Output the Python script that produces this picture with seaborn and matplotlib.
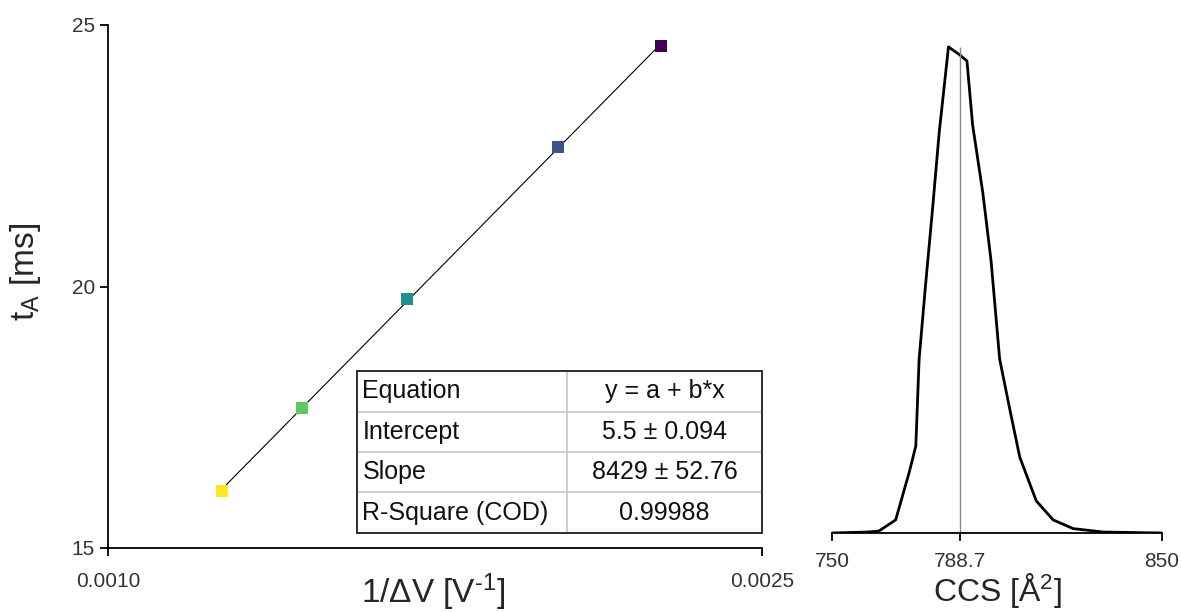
import numpy as np
import pandas as pd
import matplotlib
matplotlib.use("Agg")
import matplotlib.pyplot as plt
import seaborn as sns
from matplotlib.patches import Rectangle

# ---- data ----
inv_dv = [0.001261, 0.001445, 0.001686, 0.002032, 0.002268]
t_a = [16.09, 17.68, 19.76, 22.67, 24.60]
point_colors = ["#fde725", "#5ec962", "#21918c", "#3b528b", "#440154"]

table_rows = ["Equation", "Intercept", "Slope", "R-Square (COD)"]
table_vals = ["y = a + b*x", "5.5 \u00b1 0.094", "8429 \u00b1 52.76", "0.99988"]

ccs = [750.0, 760.7, 764.2, 769.3, 773.4, 775.4, 776.4, 778.4, 780.5, 782.5,
       785.3, 788.6, 790.9, 792.6, 795.7, 798.2, 800.8, 803.8, 806.9, 811.9,
       817.0, 823.1, 832.2, 850.0]
intensity = [0.0, 0.002, 0.004, 0.027, 0.125, 0.179, 0.358, 0.514, 0.669, 0.825,
             1.0, 0.984, 0.971, 0.84, 0.70, 0.56, 0.358, 0.257, 0.156, 0.066,
             0.027, 0.009, 0.002, 0.0]
ccs_center = 788.7
ccs_ticks = [750, 788.7, 850]
ccs_ticklabels = ["750", "788.7", "850"]

sns.set_theme(style="ticks")
plt.rcParams["font.family"] = ["Liberation Sans", "DejaVu Sans"]
plt.rcParams["mathtext.fontset"] = "custom"
plt.rcParams["mathtext.rm"] = "Liberation Sans"
plt.rcParams["mathtext.it"] = "Liberation Sans"

fig = plt.figure(figsize=(11.81, 6.12), dpi=100)
ax1 = fig.add_axes([108/1181, 1-548/612, 654/1181, 523/612])
ax2 = fig.add_axes([832/1181, 1-533/612, 330/1181, 508/612])

df = pd.DataFrame({"x": inv_dv, "y": t_a, "c": range(len(inv_dv))})
sns.regplot(data=df, x="x", y="y", ax=ax1, scatter=False, ci=None, truncate=True,
            line_kws=dict(color="black", lw=0.8))
sns.scatterplot(data=df, x="x", y="y", hue="c", palette=point_colors, marker="s",
                s=75, edgecolor="none", legend=False, ax=ax1, zorder=3)

ax1.set_xlim(0.0010, 0.0025)
ax1.set_ylim(15, 25)
ax1.set_xticks([0.0010, 0.0025])
ax1.set_xticklabels(["0.0010", "0.0025"])
ax1.set_yticks([15, 20, 25])
ax1.set_yticklabels(["15", "20", "25"])
for sp in ["top", "right"]:
    ax1.spines[sp].set_visible(False)
for sp in ["left", "bottom"]:
    ax1.spines[sp].set_color("black")
    ax1.spines[sp].set_linewidth(1.3)
ax1.tick_params(direction="out", length=6, width=1.3, colors="black", labelsize=15,
                labelcolor="#333333")
ax1.tick_params(axis="x", pad=11)
ax1.set_xlabel("1/\u0394V [V$^{\\text{-1}}$]", fontsize=24)
ax1.xaxis.set_label_coords(0.497, -0.044)
ax1.set_ylabel("t$_{A}$ [ms]", fontsize=24)
ax1.yaxis.set_label_coords(-0.099, 0.528)

# table
tx0, ty0, tw, th = 0.381, 0.029, 0.619, 0.309
tbl = ax1.table(cellText=[[r, v] for r, v in zip(table_rows, table_vals)],
                colWidths=[0.518, 0.482], bbox=[tx0, ty0, tw, th],
                cellLoc="center")
tbl.auto_set_font_size(False)
for (r, c), cell in tbl.get_celld().items():
    cell.set_edgecolor("#c8c8c8")
    cell.set_linewidth(1.2)
    cell.get_text().set_fontsize(18)
    cell.get_text().set_color("#111111")
    if c == 0:
        cell.get_text().set_ha("left")
        cell.PAD = 0.025
        cell._loc = "left"
ax1.add_patch(Rectangle((tx0, ty0), tw, th, transform=ax1.transAxes, fill=False,
                        edgecolor="#222222", lw=1.3, zorder=10, clip_on=False))

# right panel
sns.lineplot(x=ccs, y=intensity, ax=ax2, color="black", lw=2, sort=False)
ax2.vlines(ccs_center, 0, max(intensity), color="#888888", lw=1)
ax2.set_xlim(750, 850)
ax2.set_ylim(0, 1.045)
ax2.set_xticks(ccs_ticks)
ax2.set_xticklabels(ccs_ticklabels)
ax2.set_yticks([])
for sp in ["top", "right", "left"]:
    ax2.spines[sp].set_visible(False)
ax2.spines["bottom"].set_color("black")
ax2.spines["bottom"].set_linewidth(1.3)
ax2.tick_params(axis="x", direction="out", length=6, width=1.3, colors="black",
                labelsize=15, labelcolor="#333333", pad=8)
ax2.set_xlabel("CCS [\u00c5$^{2}$]", fontsize=23)
ax2.xaxis.set_label_coords(0.5, -0.074)

fig.savefig("out.png", dpi=100)
